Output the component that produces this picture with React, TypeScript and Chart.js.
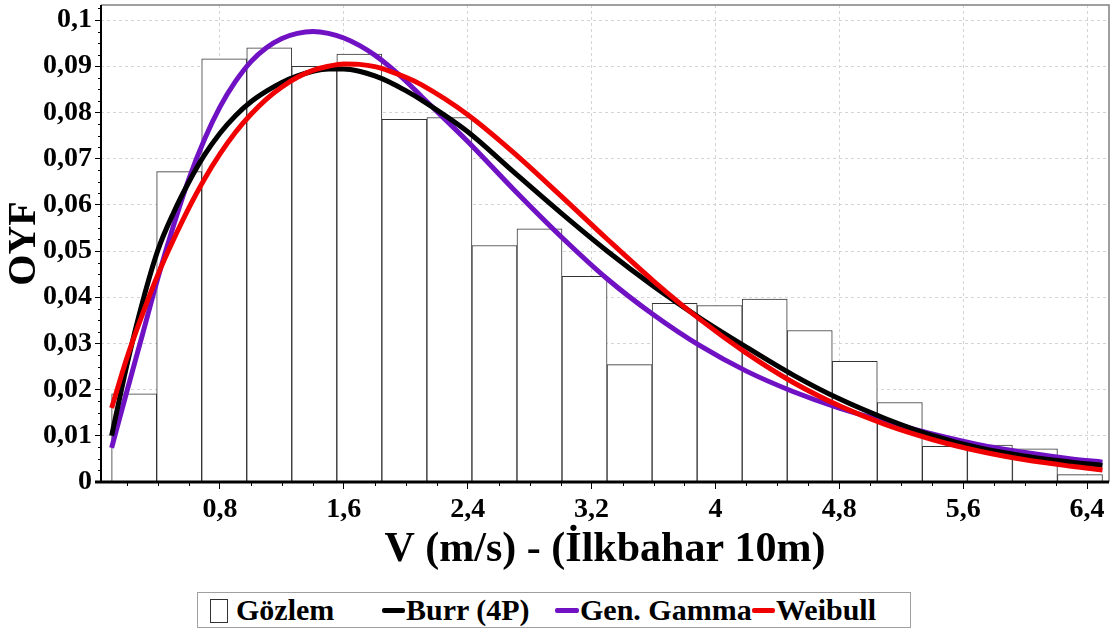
import React, { useEffect, useRef } from "react";
import { Chart, registerables } from "chart.js";

Chart.register(...registerables);

// Histogram (Gözlem): bin centres (bins of width ~0.2909 from 0.1 to 6.5) and heights
const binCenters = [
  0.2455, 0.5364, 0.8273, 1.1182, 1.4091, 1.7, 1.9909, 2.2818, 2.5727, 2.8636, 3.1545,
  3.4455, 3.7364, 4.0273, 4.3182, 4.6091, 4.9, 5.1909, 5.4818, 5.7727, 6.0636, 6.3545,
];
const observed = [
  0.0191, 0.0672, 0.0916, 0.094, 0.09, 0.0926, 0.0785, 0.0789, 0.0512, 0.0548, 0.0445,
  0.0254, 0.0387, 0.0382, 0.0396, 0.0328, 0.0261, 0.0172, 0.0077, 0.008, 0.0072, 0.0016,
];

// Fitted density curves, read at these x positions
const curveX = [
  0.1, 0.2, 0.3, 0.4, 0.5, 0.6, 0.7, 0.8, 0.9, 1.0, 1.1, 1.2, 1.3, 1.4, 1.5, 1.6, 1.7, 1.8,
  1.9, 2.0, 2.1, 2.4, 2.7, 3.0, 3.3, 3.6, 3.9, 4.2, 4.5, 4.8, 5.1, 5.4, 5.7, 6.0, 6.3, 6.5,
];
const burrY = [
  0.01, 0.0255, 0.039, 0.0503, 0.0583, 0.065, 0.0708, 0.0755, 0.0793, 0.0823, 0.0846, 0.0865,
  0.0879, 0.0889, 0.0894, 0.0894, 0.0889, 0.0879, 0.0865, 0.0847, 0.0827, 0.0758, 0.067,
  0.0583, 0.05, 0.0424, 0.0355, 0.0292, 0.0232, 0.018, 0.0137, 0.0101, 0.0074, 0.0056,
  0.0043, 0.0036,
];
const genGammaY = [
  0.0074, 0.0198, 0.032, 0.0443, 0.0555, 0.0657, 0.0742, 0.0812, 0.0867, 0.091, 0.094,
  0.096, 0.0971, 0.0975, 0.0971, 0.0961, 0.0945, 0.0924, 0.0898, 0.0868, 0.0835, 0.0737,
  0.0632, 0.0532, 0.044, 0.0362, 0.0295, 0.024, 0.0196, 0.016, 0.0131, 0.0104, 0.0081,
  0.0064, 0.005, 0.0043,
];
const weibullY = [
  0.016, 0.027, 0.0364, 0.045, 0.0525, 0.0594, 0.0656, 0.071, 0.0757, 0.0796, 0.0829,
  0.0855, 0.0876, 0.0891, 0.09, 0.0905, 0.0904, 0.0899, 0.0889, 0.0876, 0.086, 0.0795,
  0.0712, 0.062, 0.0526, 0.0435, 0.0352, 0.0279, 0.0216, 0.0165, 0.0124, 0.0092, 0.0067,
  0.0048, 0.0034, 0.0026,
];

const xTicks = [0.8, 1.6, 2.4, 3.2, 4, 4.8, 5.6, 6.4];
const yTicks = [0, 0.01, 0.02, 0.03, 0.04, 0.05, 0.06, 0.07, 0.08, 0.09, 0.1];

const seriesNames = ["Gözlem", "Burr (4P)", "Gen. Gamma", "Weibull"];
const seriesColors = ["#000000", "#000000", "#7012C4", "#F00000"];

const FONT = "'Liberation Serif', 'Times New Roman', serif";

const fmt = (v: number, d: number) => String(Number(v.toFixed(d))).replace(".", ",");

const decorPlugin = {
  id: "decor",
  afterDatasetsDraw(chart: any) {
    const { ctx, chartArea, scales } = chart;
    const { left, right, top, bottom } = chartArea;
    ctx.save();
    ctx.strokeStyle = "#808080";
    ctx.lineWidth = 1.5;
    ctx.beginPath();
    ctx.moveTo(left, top);
    ctx.lineTo(right, top);
    ctx.lineTo(right, bottom);
    ctx.stroke();
    ctx.strokeStyle = "#000";
    ctx.lineWidth = 2;
    ctx.beginPath();
    ctx.moveTo(left, top);
    ctx.lineTo(left, bottom);
    ctx.stroke();
    ctx.lineWidth = 3;
    ctx.beginPath();
    ctx.moveTo(left - 6, bottom);
    ctx.lineTo(right, bottom);
    ctx.stroke();
    ctx.lineWidth = 1;
    const ys = scales.y;
    for (let i = 1; i <= 41; i++) {
      if (i % 4 === 0) continue;
      const v = i * 0.0025;
      if (v > ys.max) break;
      const py = Math.round(ys.getPixelForValue(v)) + 0.5;
      ctx.beginPath();
      ctx.moveTo(left - 3, py);
      ctx.lineTo(left, py);
      ctx.stroke();
    }
    const xs = scales.x;
    for (let i = 1; i <= 32; i++) {
      if (i % 4 === 0) continue;
      const v = i * 0.2;
      if (v > xs.max) break;
      const px = Math.round(xs.getPixelForValue(v)) + 0.5;
      ctx.beginPath();
      ctx.moveTo(px, bottom);
      ctx.lineTo(px, bottom + 4);
      ctx.stroke();
    }
    ctx.restore();
  },
};

function ChartView() {
  const ref = useRef<HTMLCanvasElement | null>(null);
  useEffect(() => {
    document.body.style.margin = "0";
    const canvas = ref.current;
    if (!canvas) return;
    Chart.defaults.font.family = FONT;
    const line = (i: number, ys: number[], order: number) => ({
      type: "line" as const,
      label: seriesNames[i],
      data: curveX.map((x, k) => ({ x, y: ys[k] })),
      borderColor: seriesColors[i],
      backgroundColor: seriesColors[i],
      borderWidth: 5,
      pointRadius: 0,
      cubicInterpolationMode: "monotone" as const,
      fill: false,
      order,
    });
    const chart = new Chart(canvas, {
      type: "line",
      data: {
        datasets: [
          {
            type: "bar",
            label: seriesNames[0],
            data: binCenters.map((x, k) => ({ x, y: observed[k] })),
            backgroundColor: "#ffffff",
            borderColor: "#333333",
            borderWidth: 1,
            barPercentage: 1,
            categoryPercentage: 1,
            grouped: false,
            order: 10,
          } as any,
          line(2, genGammaY, 3),
          line(1, burrY, 2),
          line(3, weibullY, 1),
        ],
      },
      options: {
        animation: false,
        responsive: false,
        events: [],
        layout: { padding: { top: 5, right: 4, left: 0, bottom: 0 } },
        plugins: { legend: { display: false }, tooltip: { enabled: false } },
        scales: {
          x: {
            type: "linear",
            min: 0.0314,
            max: 6.542,
            offset: false,
            afterBuildTicks: (s: any) => {
              s.ticks = xTicks.map((v) => ({ value: v }));
            },
            afterFit: (s: any) => {
              s.height = 151;
              s.paddingLeft = 0;
              s.paddingRight = 0;
            },
            ticks: {
              autoSkip: false,
              maxRotation: 0,
              padding: 4,
              color: "#000",
              font: { size: 28, weight: "bold", family: FONT },
              callback: (v: any) => fmt(Number(v), 1),
            },
            grid: {
              offset: false,
              color: "#d4d4d4",
              tickColor: "#000",
              tickLength: 7,
              lineWidth: 1,
            },
            border: { display: false, dash: [3, 3] },
            title: {
              display: true,
              text: "V (m/s) - (İlkbahar 10m)",
              color: "#000",
              font: { size: 42, weight: "bold", family: FONT, lineHeight: 1 },
              padding: { top: 0, bottom: 62 },
            },
          },
          y: {
            type: "linear",
            min: 0,
            max: 0.10325,
            afterBuildTicks: (s: any) => {
              s.ticks = yTicks.map((v) => ({ value: v }));
            },
            afterFit: (s: any) => {
              s.width = 101;
              s.paddingTop = 0;
              s.paddingBottom = 0;
            },
            ticks: {
              padding: 3,
              color: "#000",
              font: { size: 28, weight: "bold", family: FONT },
              callback: (v: any) => fmt(Number(v), 2),
            },
            grid: {
              color: "#d4d4d4",
              tickColor: "#000",
              tickLength: 6,
              lineWidth: 1,
            },
            border: { display: false, dash: [3, 3] },
            title: {
              display: true,
              text: "OYF",
              color: "#000",
              font: { size: 40, weight: "bold", family: FONT, lineHeight: 1 },
              padding: { top: 5, bottom: 0 },
            },
          },
        },
      },
      plugins: [decorPlugin],
    } as any);
    return () => chart.destroy();
  }, []);
  return <canvas ref={ref} width={1113} height={633} style={{ display: "block" }} />;
}

const legendText: React.CSSProperties = {
  position: "absolute",
  top: 0,
  fontFamily: FONT,
  fontWeight: "bold",
  fontSize: 30,
  lineHeight: "34px",
  color: "#000",
  whiteSpace: "nowrap",
};

function Legend() {
  const swatch = (left: number, width: number, color: string): React.CSSProperties => ({
    position: "absolute",
    left,
    top: 15,
    width,
    height: 5,
    background: color,
    borderRadius: 2,
  });
  return (
    <div
      style={{
        position: "absolute",
        left: 197,
        top: 592,
        width: 714,
        height: 36,
        border: "1px solid #a0a0a0",
        background: "#fff",
        boxSizing: "border-box",
      }}
    >
      <div
        style={{
          position: "absolute",
          left: 12,
          top: 6,
          width: 18,
          height: 24,
          border: "1px solid #333",
          boxSizing: "border-box",
        }}
      />
      <span style={{ ...legendText, left: 38 }}>{seriesNames[0]}</span>
      <div style={swatch(184, 23, seriesColors[1])} />
      <span style={{ ...legendText, left: 208 }}>{seriesNames[1]}</span>
      <div style={swatch(357, 24, seriesColors[2])} />
      <span style={{ ...legendText, left: 382 }}>{seriesNames[2]}</span>
      <div style={swatch(554, 23, seriesColors[3])} />
      <span style={{ ...legendText, left: 578 }}>{seriesNames[3]}</span>
    </div>
  );
}

export default function App() {
  return (
    <div style={{ position: "relative", width: 1113, height: 633, background: "#fff" }}>
      <ChartView />
      <Legend />
    </div>
  );
}
